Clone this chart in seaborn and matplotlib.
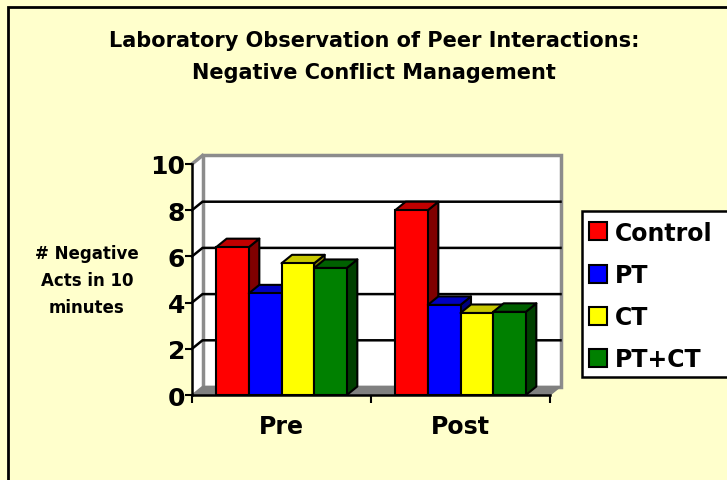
import numpy as np
import pandas as pd
import matplotlib
matplotlib.use("Agg")
import matplotlib.pyplot as plt
import seaborn as sns
from matplotlib.patches import Polygon, Rectangle
from matplotlib.lines import Line2D

# data
times = ["Pre", "Post"]
groups = ["Control", "PT", "CT", "PT+CT"]
pre_vals = [6.4, 4.4, 5.7, 5.5]
post_vals = [8.0, 3.9, 3.55, 3.6]
yticks = [0, 2, 4, 6, 8, 10]

title_lines = ["Laboratory Observation of Peer Interactions:", "Negative Conflict Management"]
ylabel_lines = ["# Negative", "Acts in 10", "minutes"]

# excel-ish 3d colours: front / top / side
front_colors = ["#FF0000", "#0000FF", "#FFFF00", "#008000"]
top_colors = ["#C00000", "#0000C0", "#C8C800", "#006000"]
side_colors = ["#800000", "#000080", "#808000", "#004000"]

plt.rcParams["font.family"] = ["DejaVu Sans"]
plt.rcParams["font.weight"] = "bold"

df = pd.DataFrame({
    "time": [t for t in times for g in groups],
    "group": groups * len(times),
    "value": pre_vals + post_vals,
})

W, H = 727, 481
fig = plt.figure(figsize=(W / 100, H / 100), dpi=100, facecolor="#FFFFCC")
# front plane of the 3d box
ax = fig.add_axes([192 / W, 1 - 396 / H, 358 / W, 231 / H])
ax.set_facecolor("none")

sns.barplot(
    data=df, x="time", y="value", hue="group",
    order=times, hue_order=groups, palette=front_colors,
    width=0.73, saturation=1, edgecolor="black", linewidth=1.5,
    legend=False, ax=ax,
)
ax.set_xlim(-0.5, 1.5)
ax.set_ylim(0, 10)

# depth offsets in data units (about 10px right, 8.5px up)
dx = 10.5 * 2.0 / 358
dy = 8.5 * 10.0 / 231

# walls and floor
ax.add_patch(Polygon([(-0.5, 0), (-0.5 + dx, dy), (-0.5 + dx, 10 + dy), (-0.5, 10)],
                     facecolor="white", edgecolor="none", clip_on=False, zorder=0.4))
ax.add_patch(Rectangle((-0.5 + dx, dy), 2, 10, facecolor="white", edgecolor="#8C8C8C",
                       lw=2.5, clip_on=False, zorder=0.5))
ax.plot([-0.5, -0.5 + dx], [10, 10 + dy], color="#8C8C8C", lw=2.5, clip_on=False, zorder=0.6)
ax.add_patch(Polygon([(-0.5, 0), (1.5, 0), (1.5 + dx, dy), (-0.5 + dx, dy)],
                     facecolor="#808080", edgecolor="#808080", clip_on=False, zorder=0.7))
for y in yticks[1:-1]:
    ax.plot([-0.5, -0.5 + dx, 1.5 + dx], [y, y + dy, y + dy], color="black", lw=1.8,
            clip_on=False, zorder=0.8)

# fake 3d faces on the bars
bars = []
for k, cont in enumerate(ax.containers):
    for b in cont:
        bars.append((b.get_x(), b, k))
bars.sort(key=lambda t: t[0])
for i, (x0, b, k) in enumerate(bars):
    w = b.get_width()
    h = b.get_height()
    z = 2 + 3 * i
    ax.add_patch(Polygon([(x0 + w, 0), (x0 + w + dx, dy), (x0 + w + dx, h + dy), (x0 + w, h)],
                         facecolor=side_colors[k], edgecolor="black", lw=1.5,
                         joinstyle="round", clip_on=False, zorder=z))
    ax.add_patch(Polygon([(x0, h), (x0 + w, h), (x0 + w + dx, h + dy), (x0 + dx, h + dy)],
                         facecolor=top_colors[k], edgecolor="black", lw=1.5,
                         joinstyle="round", clip_on=False, zorder=z + 1))
    b.set_zorder(z + 2)

for s in ["top", "right"]:
    ax.spines[s].set_visible(False)
ax.spines["left"].set_linewidth(1.8)
ax.spines["bottom"].set_linewidth(1.8)
ax.spines["left"].set_zorder(100)
ax.spines["bottom"].set_zorder(100)

ax.set_yticks(yticks)
ax.set_yticklabels([str(v) for v in yticks], fontsize=18, fontweight="bold")
ax.tick_params(axis="y", length=5, width=1.5, pad=0)
ax.set_xticks(range(len(times)))
ax.set_xticklabels(times, fontsize=17, fontweight="bold")
ax.set_xticks([-0.5, 0.5, 1.5], minor=True)
ax.tick_params(axis="x", which="major", length=0, pad=14)
ax.tick_params(axis="x", which="minor", length=6, width=1.5)
ax.set_xlabel("")
ax.set_ylabel("")

for line, yy in zip(title_lines, [41, 73]):
    fig.text(374 / W, 1 - yy / H, line, ha="center", va="center", fontsize=15,
             fontweight="bold")
for line, yy in zip(ylabel_lines, [254, 281, 308]):
    fig.text(87 / W, 1 - yy / H, line, ha="center", va="center", fontsize=12,
             fontweight="bold")

# legend: own frame so it can run off the right edge like the reference
fig.add_artist(Rectangle((582 / W, 1 - 378 / H), 160 / W, 166 / H, transform=fig.transFigure,
                         facecolor="white", edgecolor="black", lw=1.8, zorder=5))
handles = [Line2D([], [], marker="s", linestyle="none", markersize=12.5,
                  markerfacecolor=c, markeredgecolor="black", markeredgewidth=1.5)
           for c in front_colors]
leg = fig.legend(handles, groups, loc="center left", bbox_to_anchor=(589 / W, 1 - 297 / H),
                 frameon=False, prop={"size": 17, "weight": "bold"}, handlelength=0.8,
                 handletextpad=0.3, labelspacing=0.77, borderpad=0, borderaxespad=0)
leg.set_zorder(6)

# outer frame (right and bottom edges fall outside the picture)
fig.add_artist(Rectangle((8 / W, -0.1), 1.5, 1 - 8 / H + 0.1, transform=fig.transFigure,
                         fill=False, edgecolor="black", lw=2))

fig.savefig("out.png", dpi=100, facecolor=fig.get_facecolor())
